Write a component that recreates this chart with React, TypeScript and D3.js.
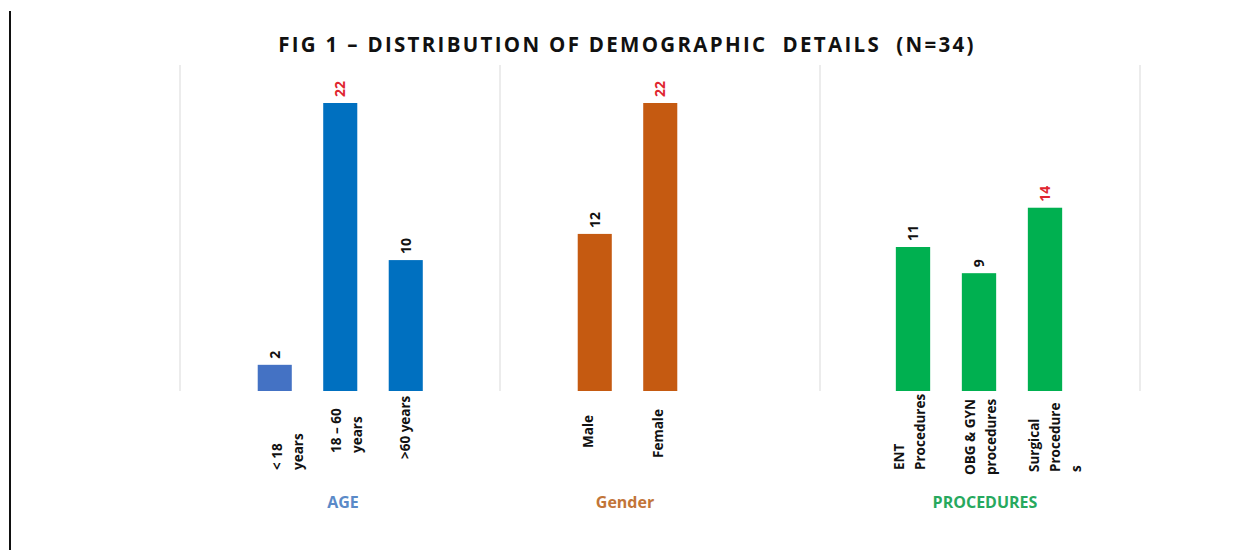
import React from "react";
import * as d3 from "d3";

const title = "FIG 1 – DISTRIBUTION OF DEMOGRAPHIC  DETAILS  (N=34)";

const ageCategories = ["< 18 years", "18 – 60 years", ">60 years"];
const ageValues = [2, 22, 10];
const genderCategories = ["Male", "Female"];
const genderValues = [12, 22];
const procedureCategories = ["ENT Procedures", "OBG & GYN procedures", "Surgical Procedures"];
const procedureValues = [11, 9, 14];
const groupTitles = ["AGE", "Gender", "PROCEDURES"];

// label line wrapping (as shown in the picture)
const wrappedLabels: Record<string, string[]> = {
  "< 18 years": ["< 18", "years"],
  "18 – 60 years": ["18 – 60", "years"],
  ">60 years": [">60 years"],
  "Male": ["Male"],
  "Female": ["Female"],
  "ENT Procedures": ["ENT", "Procedures"],
  "OBG & GYN procedures": ["OBG & GYN", "procedures"],
  "Surgical Procedures": ["Surgical", "Procedure", "s"],
};
// layout of rotated labels: bottom (text start) and horizontal shift
const labelLayout: Record<string, { bottom: number; dx: number }> = {
  "< 18 years": { bottom: 470, dx: 13 },
  "18 – 60 years": { bottom: 453, dx: 6 },
  ">60 years": { bottom: 459, dx: -1 },
  "Male": { bottom: 448, dx: -7 },
  "Female": { bottom: 458, dx: -2 },
  "ENT Procedures": { bottom: 470, dx: -4 },
  "OBG & GYN procedures": { bottom: 475, dx: 1.5 },
  "Surgical Procedures": { bottom: 472, dx: 10 },
};

const W = 1246;
const H = 550;
const baseY = 391;
const topY = 103;
const font = "'Open Sans', 'Noto Sans', sans-serif";

const y = d3.scaleLinear().domain([0, 22]).range([baseY, topY]);

type Group = {
  cats: string[];
  vals: number[];
  range: [number, number];
  colors: string[];
  title: string;
  titleColor: string;
  titleX: number;
};

const groups: Group[] = [
  {
    cats: ageCategories,
    vals: ageValues,
    range: [242, 438.5],
    colors: ["#4472c4", "#0070c0", "#0070c0"],
    title: groupTitles[0],
    titleColor: "#5a8ac8",
    titleX: 343,
  },
  {
    cats: genderCategories,
    vals: genderValues,
    range: [562, 693],
    colors: ["#c55a11", "#c55a11"],
    title: groupTitles[1],
    titleColor: "#c27538",
    titleX: 625,
  },
  {
    cats: procedureCategories,
    vals: procedureValues,
    range: [880, 1078],
    colors: ["#00b050", "#00b050", "#00b050"],
    title: groupTitles[2],
    titleColor: "#27a95e",
    titleX: 985,
  },
];

const dividers = [180, 500, 820, 1140];

export default function App() {
  return (
    <svg
      width={W}
      height={H}
      style={{ position: "absolute", left: 0, top: 0, background: "#fff" }}
      fontFamily={font}
    >
      <rect x={0} y={0} width={W} height={H} fill="#fff" />
      <line x1={10} x2={10} y1={11} y2={H} stroke="#111" strokeWidth={2} />
      <text
        x={627}
        y={52}
        textAnchor="middle"
        fontSize={20.5}
        fontWeight={700}
        letterSpacing={2.3}
        fill="#111"
        style={{ whiteSpace: "pre" }}
      >
        {title}
      </text>
      {dividers.map((d) => (
        <line key={d} x1={d} x2={d} y1={65} y2={baseY} stroke="#d9d9d9" strokeWidth={1} />
      ))}
      {groups.map((g, gi) => {
        const x = d3
          .scaleBand<string>()
          .domain(g.cats)
          .range(g.range)
          .paddingInner(0.48)
          .paddingOuter(0.24);
        const gMax = Math.max(...g.vals);
        return (
          <g key={gi}>
            {g.cats.map((c, i) => {
              const v = g.vals[i];
              const bx = x(c)!;
              const bw = x.bandwidth();
              const cx = bx + bw / 2;
              const lines = wrappedLabels[c] || [c];
              const lh = 21;
              const lay = labelLayout[c] ?? { bottom: 460, dx: 0 };
              return (
                <g key={c}>
                  <rect x={bx} y={y(v)} width={bw} height={baseY - y(v)} fill={g.colors[i]} />
                  <text
                    transform={`translate(${cx + 5},${y(v) - 6}) rotate(-90)`}
                    fontSize={14}
                    fontWeight={700}
                    fill={v === gMax ? "#e0252f" : "#111"}
                  >
                    {v}
                  </text>
                  {lines.map((ln, li) => {
                    const lx = cx + lay.dx - ((lines.length - 1) * lh) / 2 + li * lh + 5;
                    return (
                      <text
                        key={li}
                        transform={`translate(${lx},${lay.bottom}) rotate(-90)`}
                        fontSize={13.5}
                        fontWeight={700}
                        fill="#111"
                      >
                        {ln}
                      </text>
                    );
                  })}
                </g>
              );
            })}
            <text
              x={g.titleX}
              y={508}
              textAnchor="middle"
              fontSize={16}
              fontWeight={700}
              fill={g.titleColor}
            >
              {g.title}
            </text>
          </g>
        );
      })}
    </svg>
  );
}
